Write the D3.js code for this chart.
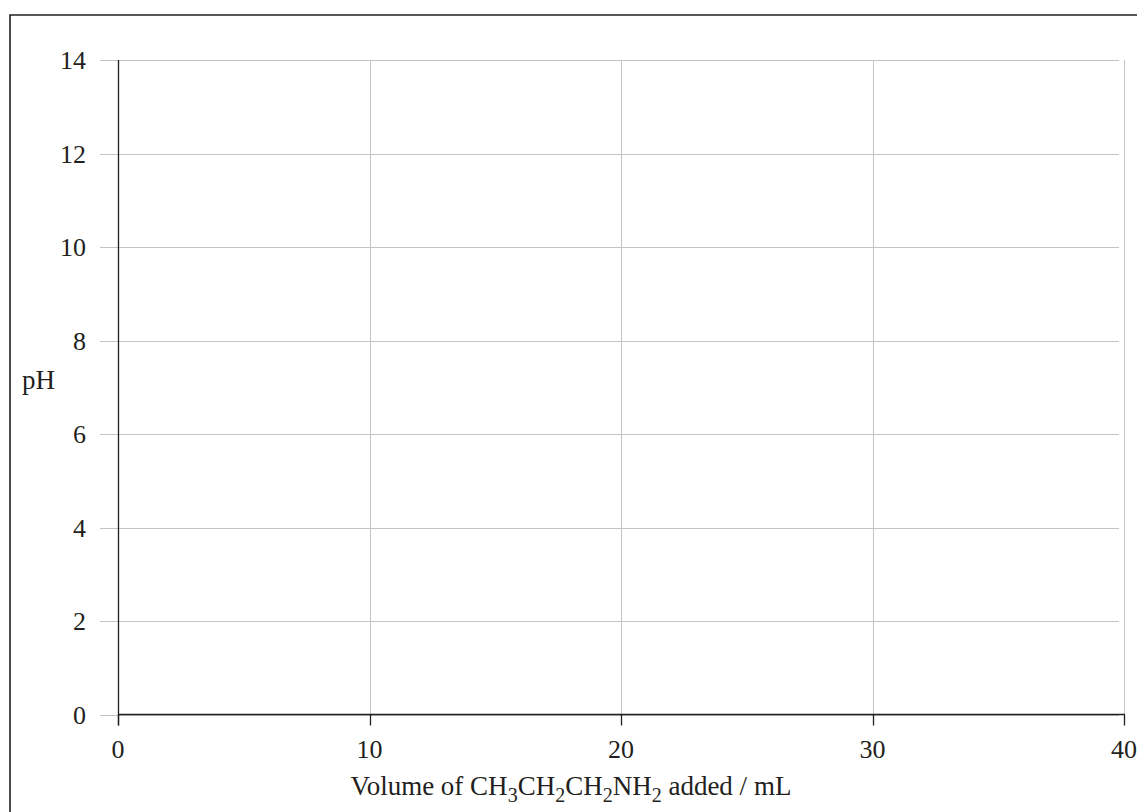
<!DOCTYPE html>
<html>
<head>
<meta charset="utf-8">
<script src="https://cdn.jsdelivr.net/npm/d3@7"></script>
<style>
  body { margin: 0; background: #fff; }
  text { font-family: "Liberation Serif", "Times New Roman", serif; fill: #231f20; }
</style>
</head>
<body>
<svg id="chart"></svg>
<script>
const width = 1137;
const height = 812;

// axis values
const xTicks = [0, 10, 20, 30, 40];
const yTicks = [0, 2, 4, 6, 8, 10, 12, 14];
const xDomain = [0, 40];
const yDomain = [0, 14];
const xTitleParts = [
    ["Volume of CH", false], ["3", true], ["CH", false], ["2", true],
    ["CH", false], ["2", true], ["NH", false], ["2", true], [" added / mL", false]
];
const yTitle = "pH";

const plotLeft = 118, plotRight = 1124, plotTop = 60, plotBottom = 714.5;
const fontSize = 27;

const svg = d3.select("#chart")
    .attr("width", width)
    .attr("height", height);

// frame round the figure
svg.append("path")
    .attr("d", `M10,${height + 2} V15 H${width + 2}`)
    .attr("fill", "none")
    .attr("stroke", "#231f20")
    .attr("stroke-width", 1.6);

const x = d3.scaleLinear().domain(xDomain).range([plotLeft, plotRight]);
const y = d3.scaleLinear().domain(yDomain).range([plotBottom, plotTop]);

// horizontal grid
svg.append("g")
    .selectAll("line")
    .data(yTicks)
    .join("line")
    .attr("x1", plotLeft - 18)
    .attr("x2", plotRight - 5)
    .attr("y1", d => Math.round(y(d)) + 0.5)
    .attr("y2", d => Math.round(y(d)) + 0.5)
    .attr("stroke", "#c4c4c4")
    .attr("stroke-width", 1);

// vertical grid
svg.append("g")
    .selectAll("line")
    .data(xTicks.slice(1))
    .join("line")
    .attr("x1", d => Math.round(x(d)) + 0.5)
    .attr("x2", d => Math.round(x(d)) + 0.5)
    .attr("y1", plotTop)
    .attr("y2", plotBottom)
    .attr("stroke", "#c4c4c4")
    .attr("stroke-width", 1);

// x ticks below axis
svg.append("g")
    .selectAll("line")
    .data(xTicks)
    .join("line")
    .attr("x1", d => Math.round(x(d)) + 0.5)
    .attr("x2", d => Math.round(x(d)) + 0.5)
    .attr("y1", plotBottom)
    .attr("y2", plotBottom + 11)
    .attr("stroke", "#231f20")
    .attr("stroke-width", 1.3);

// axis lines
svg.append("line")
    .attr("x1", plotLeft + 0.5).attr("x2", plotLeft + 0.5)
    .attr("y1", plotTop).attr("y2", plotBottom + 11)
    .attr("stroke", "#231f20").attr("stroke-width", 1.3);
svg.append("line")
    .attr("x1", plotLeft).attr("x2", plotRight + 1)
    .attr("y1", plotBottom).attr("y2", plotBottom)
    .attr("stroke", "#231f20").attr("stroke-width", 1.3);

// y tick labels
svg.append("g")
    .selectAll("text")
    .data(yTicks)
    .join("text")
    .attr("x", 86)
    .attr("y", d => y(d) + 9)
    .attr("text-anchor", "end")
    .attr("font-size", 26)
    .text(d => d);

// x tick labels
svg.append("g")
    .selectAll("text")
    .data(xTicks)
    .join("text")
    .attr("x", d => x(d))
    .attr("y", 758)
    .attr("text-anchor", "middle")
    .attr("font-size", 26)
    .text(d => d);

// axis titles
svg.append("text")
    .attr("x", 22)
    .attr("y", 389)
    .attr("font-size", fontSize)
    .text(yTitle);

const xt = svg.append("text")
    .attr("x", 571)
    .attr("y", 795)
    .attr("text-anchor", "middle")
    .attr("font-size", fontSize);
xt.selectAll("tspan")
    .data(xTitleParts)
    .join("tspan")
    .attr("font-size", d => d[1] ? 20 : fontSize)
    .attr("dy", (d, i) => {
        const prevSub = i > 0 && xTitleParts[i - 1][1];
        if (d[1] && !prevSub) return 7;
        if (!d[1] && prevSub) return -7;
        return 0;
    })
    .text(d => d[0]);
</script>
</body>
</html>
